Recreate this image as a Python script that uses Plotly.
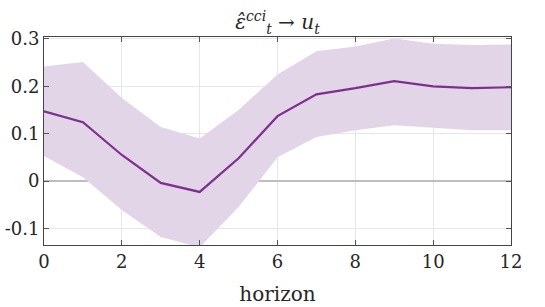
import plotly.graph_objects as go

horizon = list(range(13))
irf = [0.147, 0.124, 0.055, -0.004, -0.023, 0.048, 0.137, 0.183, 0.196, 0.211, 0.200, 0.196, 0.198]
upper = [0.242, 0.251, 0.175, 0.114, 0.090, 0.150, 0.225, 0.274, 0.284, 0.301, 0.290, 0.287, 0.288]
lower = [0.053, 0.008, -0.061, -0.118, -0.140, -0.055, 0.050, 0.093, 0.107, 0.118, 0.112, 0.107, 0.107]

xticks = [0, 2, 4, 6, 8, 10, 12]
yticks = [-0.1, 0, 0.1, 0.2, 0.3]
yticktext = ["-0.1", "0", "0.1", "0.2", "0.3"]

font = "DejaVu Serif, serif"
fig = go.Figure()
fig.add_trace(go.Scatter(x=horizon + horizon[::-1], y=upper + lower[::-1], fill="toself",
                         fillcolor="#E2D5E8", line=dict(width=0), mode="lines",
                         hoverinfo="skip", showlegend=False))
fig.add_trace(go.Scatter(x=horizon, y=irf, mode="lines",
                         line=dict(color="#7E2F8E", width=2.2), showlegend=False))

fig.update_layout(
    width=545, height=307,
    margin=dict(l=44, r=34, t=37, b=62, autoexpand=False),
    plot_bgcolor="white", paper_bgcolor="white",
    font=dict(family=font, size=18, color="#262626"),
    title=dict(text="<i>ε̂</i><sup><i>cci</i></sup><sub><i>t</i></sub> → <i>u</i><sub><i>t</i></sub>",
               x=0.5, xanchor="center", xref="paper", y=0.95, yanchor="top",
               font=dict(family=font, size=20, color="#262626")),
    xaxis=dict(range=[0, 12], tickvals=xticks, ticks="inside", ticklen=5, tickcolor="#555",
               showline=True, linecolor="#444", linewidth=1, mirror="ticks",
               showgrid=True, gridcolor="#E6E6E6", gridwidth=1, zeroline=False,
               automargin=False,
               title=dict(text="horizon", standoff=16, font=dict(size=20)),
               tickfont=dict(size=18)),
    yaxis=dict(range=[-0.135, 0.304], tickvals=yticks, ticktext=yticktext, ticks="inside",
               ticklen=5, tickcolor="#555", automargin=False,
               showline=True, linecolor="#444", linewidth=1, mirror="ticks",
               showgrid=True, gridcolor="#E6E6E6", gridwidth=1,
               zeroline=True, zerolinecolor="#BDBDBD", zerolinewidth=2,
               tickfont=dict(size=18)),
)
fig.write_html("out.html", config={"displayModeBar": False},
               post_script="document.body.style.margin='0';")
